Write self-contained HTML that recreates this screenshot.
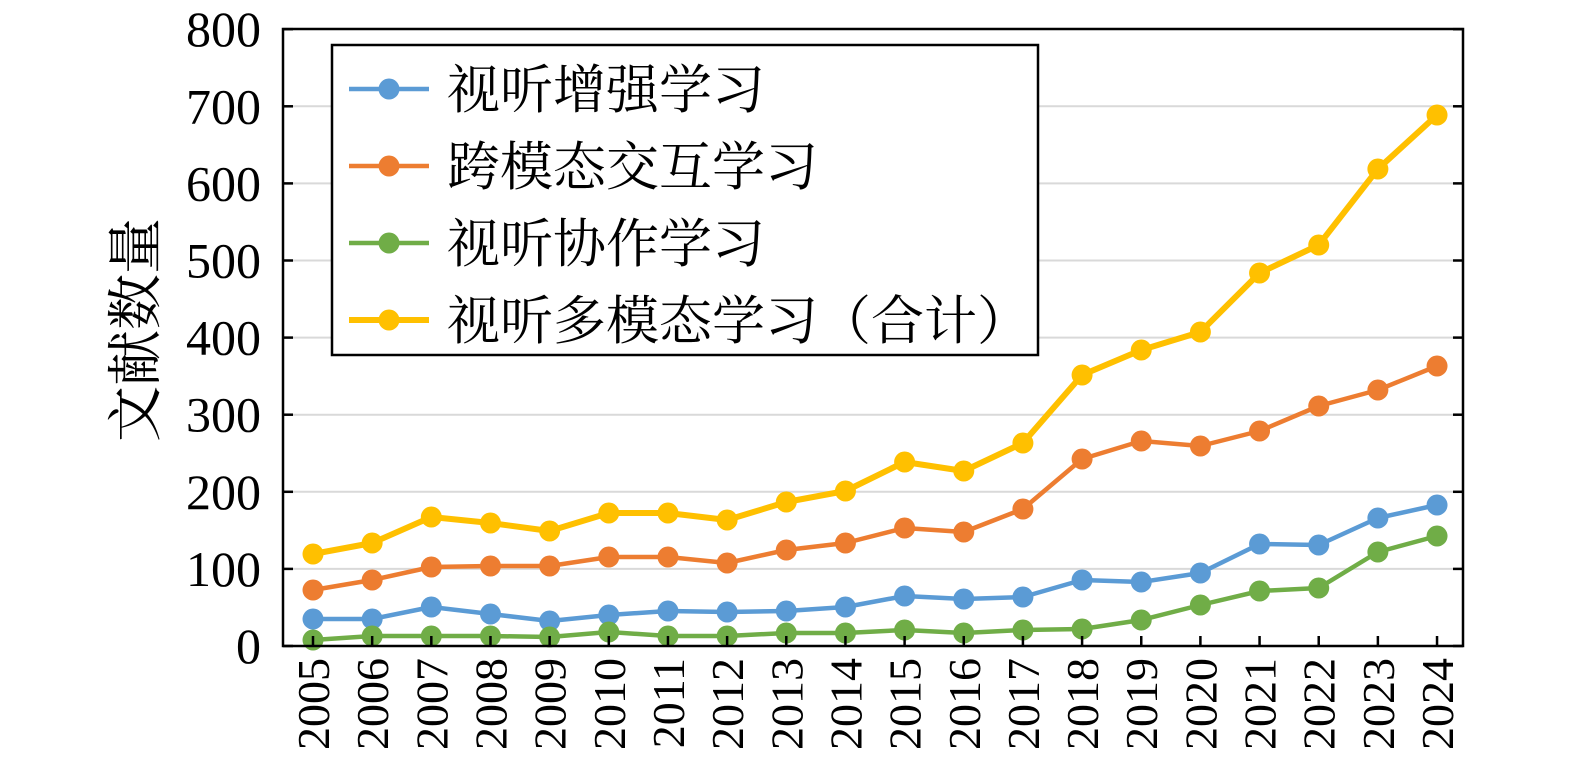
<!DOCTYPE html>
<html><head><meta charset="utf-8"><style>
html,body{margin:0;padding:0;background:#fff}
text{font-family:"Liberation Serif","Noto Serif CJK SC",serif;fill:#000}
</style></head><body>
<svg width="1575" height="778" viewBox="0 0 1575 778" xmlns="http://www.w3.org/2000/svg">
<g id="grid" stroke="#d9d9d9" stroke-width="2"></g>
<g id="ser" fill="none" stroke-width="4.5" stroke-linejoin="round"></g>
<rect x="283" y="29" width="1180" height="617" fill="none" stroke="#000" stroke-width="2.5"/>
<g id="ticks" stroke="#000" stroke-width="2.5"></g>
<g font-size="50" text-anchor="end" id="yl"></g>
<g font-size="46" id="xl"></g>
<text font-size="56" transform="translate(155,330) rotate(-90)" text-anchor="middle">文献数量</text>
<rect x="332" y="45" width="706" height="310" fill="#fff" stroke="#000" stroke-width="2.5"/>
<g id="leg" font-size="53"></g>
</svg>
<script>
const ns="http://www.w3.org/2000/svg";
function el(p,t,a,txt){const e=document.createElementNS(ns,t);for(const k in a)e.setAttribute(k,a[k]);if(txt!=null)e.textContent=txt;p.appendChild(e);return e;}
const X=i=>313+i*59.16;
const S=[["#5b9bd5",[619,619,607,614,621,615,611,612,611,607,596,599,597,580,582,573,544,545,518,505]],
["#ed7d31",[590,580,567,566,566,557,557,563,550,543,528,532,509,459,441,446,431,406,390,366]],
["#70ad47",[640,636,636,636,637,632,636,636,633,633,630,633,630,629,620,605,591,588,552,536]],
["#ffc000",[554,543,517,523,531,513,513,520,502,491,462,471,443,375,350,332,273,245,169,115]]];
const gr=document.getElementById("grid");
for(let v=1;v<8;v++){const y=646-v*77.1;el(gr,"line",{x1:283,x2:1463,y1:y,y2:y});}
const g=document.getElementById("ser");
S.forEach(([c,d],k)=>{el(g,"polyline",{points:d.map((y,i)=>X(i)+","+y).join(" "),stroke:c,"stroke-width":k==3?6:4.5});
d.forEach((y,i)=>el(g,"circle",{cx:X(i),cy:y,r:10.5,fill:c,stroke:"none"}));});
const t=document.getElementById("ticks"),yl=document.getElementById("yl"),xl=document.getElementById("xl");
for(let v=0;v<=8;v++){const y=646-v*77.1;el(t,"line",{x1:283,x2:293,y1:y,y2:y});el(t,"line",{x1:1453,x2:1463,y1:y,y2:y});el(yl,"text",{x:261,y:y+17},String(v*100));}
for(let i=0;i<20;i++){const x=X(i);el(t,"line",{x1:x,x2:x,y1:636,y2:646});el(xl,"text",{transform:`translate(${x+16},658) rotate(-90)`,"text-anchor":"end"},String(2005+i));}
const L=["视听增强学习","跨模态交互学习","视听协作学习","视听多模态学习（合计）"],lg=document.getElementById("leg");
L.forEach((s,k)=>{const y=89+k*77;el(lg,"line",{x1:349,x2:429,y1:y,y2:y,stroke:S[k][0],"stroke-width":k==3?6:4.5});el(lg,"circle",{cx:389,cy:y,r:10.5,fill:S[k][0]});el(lg,"text",{x:447,y:y+19},s);});
</script>
</body></html>
